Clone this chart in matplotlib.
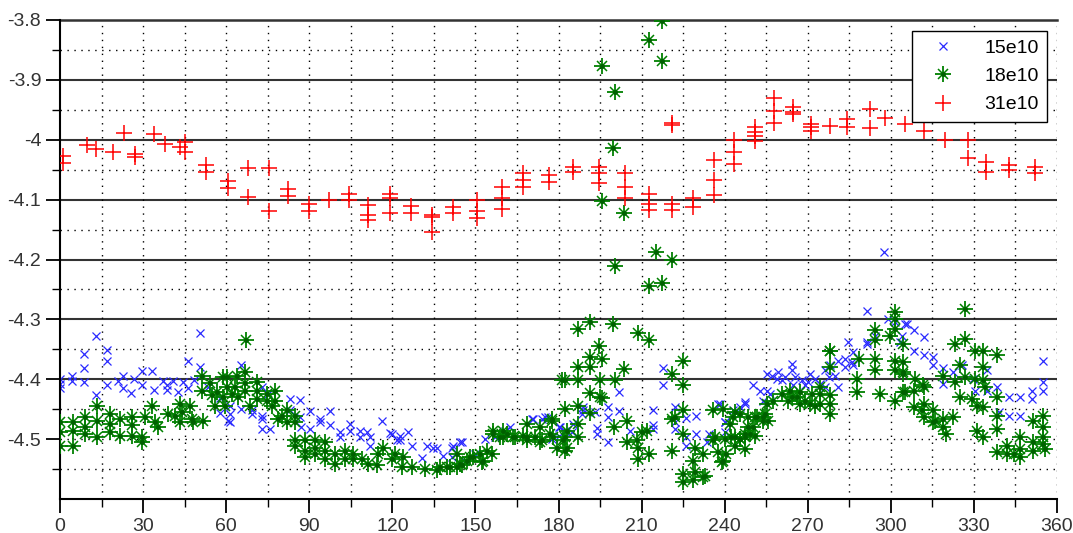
import numpy as np
import matplotlib
matplotlib.use("Agg")
import matplotlib.pyplot as plt

# --- data (angle in degrees, value) ---
blue_x = [0, 0, 0, 4.2, 4.2, 8.7, 8.7, 8.7, 12.9, 12.9, 17.1, 17.1, 17.1,
          21.0, 22.9, 22.9, 25.6, 26.8, 29.7, 29.7, 33.3, 34.1,
          37.3, 38.5, 38.5, 40.9, 42.7, 44.5, 46.1, 46.3, 48.5,
          50.6, 50.6, 53.6, 57.8, 57.8, 60.8, 61.4, 61.4, 61.4, 65.4, 65.4, 69.2, 69.2,
          72.8, 72.8, 72.8, 72.8, 75.2, 75.8, 83.1, 83.1, 86.7, 86.7, 87.0, 90.3, 90.3,
          93.9, 93.9, 97.5, 97.5, 101.1, 101.1, 104.7, 104.7, 108.3, 108.3,
          110.8, 112.0, 112.0, 116.2, 119.2, 119.8, 121.6,
          122.8, 122.8, 125.8, 127.0, 130.6, 132.4, 134.8, 136.0, 138.4, 141.5, 141.5, 142.0,
          144.4, 145.1, 146.3, 149.9, 153.5, 157.1, 160.7, 162.5, 170.3, 170.9, 174.0,
          175.2, 176.3, 177.6, 180.0, 180.0, 180.6, 182.4, 184.8, 185.4,
          188.4, 189.0, 189.0, 193.2, 193.8, 193.8, 197.8, 197.8, 197.8, 201.9, 201.9, 205.8,
          214.3, 214.3, 214.3, 217.9, 217.9, 222.1, 222.1, 222.1, 226.0, 226.0, 226.0,
          229.6, 229.6, 233.5, 234.4, 237.7, 238.2, 240.0, 240.0, 240.2, 243.0, 243.8,
          245.4, 247.3, 247.4, 250.4, 252.8, 254.0, 255.2, 255.2, 256.4, 257.0, 258.8,
          259.4, 260.6, 261.8, 264.2, 264.2, 264.8, 265.4, 267.8, 269.1, 270.2, 270.9,
          272.7, 274.5, 276.3, 276.3, 277.5, 278.1, 279.9, 281.1, 281.1, 283.5, 283.5,
          284.7, 285.9, 286.5, 286.5, 291.3, 291.3, 291.3, 294.3, 297.5, 299.1, 301.5,
          303.4, 304.0, 305.2, 305.8, 308.2, 308.2, 311.8, 311.8, 315.4, 315.4,
          319.0, 319.0, 322.6, 325.6, 329.8, 330.4, 334.7, 334.7, 338.3, 338.9, 342.5,
          342.5, 346.7, 346.7, 350.9, 350.9, 355.1, 355.1, 355.1]
blue_y = [-4.399, -4.408, -4.414, -4.394, -4.403, -4.357, -4.382, -4.405, -4.328, -4.427,
          -4.351, -4.370, -4.409, -4.403, -4.395, -4.414, -4.423, -4.399, -4.386, -4.410,
          -4.386, -4.418, -4.403, -4.409, -4.418, -4.403, -4.422, -4.405, -4.369, -4.414,
          -4.401, -4.323, -4.379, -4.413, -4.431, -4.456, -4.469, -4.444, -4.458, -4.472,
          -4.377, -4.449, -4.452, -4.458, -4.413, -4.461, -4.466, -4.483, -4.424, -4.483,
          -4.452, -4.433, -4.434, -4.463, -4.480, -4.453, -4.483, -4.466, -4.472, -4.453,
          -4.477, -4.488, -4.497, -4.474, -4.486, -4.486, -4.497, -4.488, -4.497, -4.511,
          -4.469, -4.490, -4.491, -4.502, -4.494, -4.502, -4.488, -4.511, -4.531, -4.511,
          -4.514, -4.514, -4.529, -4.514, -4.530, -4.512, -4.505, -4.505, -4.536, -4.525,
          -4.500, -4.497, -4.486, -4.479, -4.466, -4.466, -4.466, -4.463, -4.463, -4.500,
          -4.480, -4.494, -4.480, -4.486, -4.488, -4.474, -4.458, -4.451, -4.447, -4.455,
          -4.481, -4.492, -4.447, -4.463, -4.504, -4.422, -4.453, -4.486, -4.451, -4.477,
          -4.483, -4.381, -4.410, -4.447, -4.472, -4.483, -4.464, -4.497, -4.511, -4.462,
          -4.491, -4.505, -4.492, -4.441, -4.442, -4.472, -4.488, -4.472, -4.452, -4.455,
          -4.447, -4.441, -4.438, -4.410, -4.419, -4.436, -4.419, -4.391, -4.424, -4.394,
          -4.399, -4.388, -4.402, -4.397, -4.374, -4.385, -4.410, -4.397, -4.402, -4.410,
          -4.405, -4.391, -4.399, -4.408, -4.385, -4.413, -4.396, -4.377, -4.394, -4.369,
          -4.413, -4.366, -4.380, -4.338, -4.371, -4.355, -4.377, -4.286, -4.338, -4.341,
          -4.327, -4.188, -4.299, -4.305, -4.338, -4.327, -4.307, -4.307, -4.318, -4.352,
          -4.330, -4.360, -4.363, -4.377, -4.382, -4.408, -4.388, -4.377, -4.399, -4.419,
          -4.385, -4.419, -4.413, -4.455, -4.430, -4.461, -4.430, -4.462, -4.419, -4.433,
          -4.370, -4.405, -4.419]

green_x = [0, 0, 0, 4.8, 4.8, 4.8, 9.0, 9.0, 9.0, 13.2, 13.2, 13.2, 18.0, 18.0, 18.0,
           21.7, 21.7, 25.9, 25.9, 25.9, 29.5, 29.5, 30.7, 33.1, 34.3, 35.5,
           39.1, 41.5, 43.3, 43.3, 43.9, 46.9, 47.6, 48.1,
           51.2, 51.2, 51.8, 54.2, 54.8, 56.0, 56.6, 59.0, 59.0, 59.6,
           60.2, 60.2, 62.0, 63.2, 63.8, 64.4, 66.8, 66.8, 66.8, 67.1, 68.6,
           71.0, 71.0, 71.0, 74.6, 74.6, 76.5, 77.6, 77.6, 78.8, 80.1,
           81.9, 81.9, 84.9, 84.9, 84.9, 84.9,
           88.5, 88.5, 88.5, 92.1, 92.1, 92.1, 95.7, 95.7, 95.7,
           99.3, 99.3, 102.9, 102.9, 105.9, 105.9, 109.0, 111.3, 114.4, 115.0, 116.8, 119.8,
           121.0, 123.4, 124.0, 127.0, 131.8, 136.0, 137.2, 139.7, 140.8, 143.3, 143.3,
           144.5, 145.1, 146.9, 148.1, 149.3, 151.7, 152.3, 152.9, 154.1,
           155.9, 156.5, 156.5, 158.9, 160.1, 160.1, 161.3, 163.7, 164.3, 167.3, 168.5,
           168.5, 168.5, 171.5, 173.3, 173.3, 174.0, 177.0, 177.6, 177.6, 178.1, 179.4,
           181.2, 181.8, 182.4, 182.4, 182.4, 182.4, 183.0, 183.0,
           187.2, 187.2, 187.2, 187.2, 187.2, 187.2, 191.4, 191.4, 191.4, 191.4, 191.4,
           194.8, 195.0, 195.0, 195.6, 195.6, 195.6, 195.8, 199.5, 199.5, 200.4, 200.4,
           200.4, 200.2, 203.7, 203.7, 204.7, 204.7,
           208.3, 208.6, 208.6, 208.8, 210.0, 211.9, 212.5, 212.7, 212.7, 212.8, 215.2,
           217.3, 217.3, 217.3, 221.0, 221.1, 221.1, 222.1, 221.1, 224.9, 224.9, 224.9,
           224.9, 224.9, 225.1, 228.7, 228.7, 229.3, 229.3, 232.3, 232.3, 232.9,
           235.8, 235.8, 236.5, 237.6, 239.0, 239.4, 239.5, 240.2, 240.6,
           242.0, 242.4, 243.0, 243.8, 243.8, 243.8, 245.4, 245.4, 245.6, 247.3, 247.4,
           247.4, 248.6, 248.6, 249.1, 250.3, 251.0, 251.0, 251.5, 253.9, 254.0, 254.6,
           255.2, 255.7, 257.6, 260.6, 263.0, 263.6, 264.2, 266.0, 267.3, 267.3, 269.1,
           270.9, 271.5, 272.7, 274.5, 274.5, 274.5,
           278.0, 278.1, 278.1, 278.1, 278.1, 278.0, 287.7, 287.7, 288.5,
           294.3, 294.3, 294.3, 294.3, 296.1, 299.7, 301.5, 301.5, 301.5, 301.5, 301.5,
           301.5, 304.5, 304.5, 304.5, 304.5, 304.5, 305.0, 308.2, 308.2, 308.8, 311.1,
           311.7, 311.8, 311.8, 311.8, 315.4, 315.4, 315.9, 319.0, 319.0, 319.0, 320.1,
           322.5, 323.2, 323.2, 325.0, 325.0, 326.8, 326.8, 326.8, 329.2, 330.4, 330.4,
           331.0, 331.0, 333.4, 333.4, 333.4, 333.4, 333.4, 334.0, 338.3, 338.3, 338.3,
           338.3, 338.3, 341.9, 341.9, 344.3, 346.7, 346.7, 346.7, 351.5, 351.5, 351.5,
           355.1, 355.1, 355.1, 355.1, 355.7]
green_y = [-4.472, -4.488, -4.511, -4.472, -4.486, -4.511, -4.463, -4.480, -4.491,
           -4.444, -4.469, -4.497, -4.458, -4.474, -4.488, -4.466, -4.494, -4.463, -4.477,
           -4.494, -4.497, -4.505, -4.463, -4.444, -4.472, -4.480, -4.458, -4.461, -4.472,
           -4.441, -4.455, -4.444, -4.466, -4.472, -4.394, -4.419, -4.469, -4.407, -4.427,
           -4.444, -4.422, -4.397, -4.430, -4.444, -4.396, -4.413, -4.424, -4.413, -4.394,
           -4.430, -4.388, -4.407, -4.419, -4.334, -4.444, -4.405, -4.419, -4.433, -4.424,
           -4.436, -4.444, -4.419, -4.436, -4.466, -4.461, -4.452, -4.472, -4.461, -4.472,
           -4.501, -4.511, -4.502, -4.519, -4.530, -4.501, -4.514, -4.525, -4.505, -4.519,
           -4.533, -4.525, -4.541, -4.519, -4.533, -4.525, -4.533, -4.533, -4.541, -4.544,
           -4.525, -4.514, -4.533, -4.525, -4.547, -4.530, -4.547, -4.550, -4.552, -4.547,
           -4.547, -4.547, -4.547, -4.525, -4.541, -4.544, -4.536, -4.530, -4.530, -4.525,
           -4.539, -4.536, -4.519, -4.525, -4.486, -4.491, -4.497, -4.497, -4.486, -4.491,
           -4.497, -4.497, -4.494, -4.474, -4.497, -4.502, -4.497, -4.480, -4.505, -4.502,
           -4.491, -4.466, -4.469, -4.497, -4.514, -4.402, -4.502, -4.449, -4.497, -4.519,
           -4.401, -4.486, -4.514, -4.316, -4.379, -4.401, -4.445, -4.474, -4.497, -4.305,
           -4.363, -4.379, -4.423, -4.456, -4.344, -4.401, -4.430, -4.431, -3.877, -4.103,
           -4.367, -4.307, -4.013, -3.920, -4.211, -4.401, -4.480, -4.123, -4.383, -4.470,
           -4.505, -4.502, -4.323, -4.533, -4.514, -4.488, -4.486, -4.525, -3.833, -4.245,
           -4.334, -4.188, -3.801, -3.868, -4.239, -4.200, -4.391, -4.466, -4.463, -4.520,
           -4.369, -4.409, -4.452, -4.491, -4.558, -4.572, -4.536, -4.569, -4.514, -4.555,
           -4.525, -4.564, -4.561, -4.451, -4.502, -4.497, -4.522, -4.539, -4.536, -4.449,
           -4.500, -4.525, -4.474, -4.497, -4.463, -4.455, -4.497, -4.511, -4.458, -4.500,
           -4.500, -4.497, -4.491, -4.516, -4.463, -4.480, -4.491, -4.480, -4.463, -4.494,
           -4.463, -4.463, -4.469, -4.458, -4.441, -4.469, -4.436, -4.424, -4.436, -4.419,
           -4.430, -4.430, -4.441, -4.422, -4.436, -4.441, -4.424, -4.444, -4.413, -4.424,
           -4.441, -4.352, -4.353, -4.427, -4.441, -4.458, -4.380, -4.399, -4.422, -4.366,
           -4.318, -4.335, -4.366, -4.385, -4.424, -4.327, -4.288, -4.299, -4.316, -4.369,
           -4.385, -4.436, -4.341, -4.371, -4.388, -4.391, -4.422, -4.422, -4.419, -4.447,
           -4.399, -4.452, -4.410, -4.413, -4.441, -4.463, -4.452, -4.472, -4.469, -4.394,
           -4.466, -4.480, -4.491, -4.463, -4.341, -4.405, -4.377, -4.430, -4.282, -4.332,
           -4.396, -4.433, -4.352, -4.399, -4.444, -4.486, -4.353, -4.380, -4.402, -4.447,
           -4.496, -4.413, -4.360, -4.430, -4.461, -4.483, -4.522, -4.511, -4.525, -4.525,
           -4.497, -4.516, -4.530, -4.469, -4.505, -4.519, -4.461, -4.480, -4.497, -4.508,
           -4.516]

red_x = [1.2, 1.2, 9.9, 13.0, 19.3, 23.0, 27.2, 27.2, 34.0, 38.0, 43.3, 45.1, 45.1,
         52.7, 52.7, 60.5, 60.5, 68.0, 68.0, 75.6, 75.6, 82.4, 82.4, 90.0, 90.0, 97.0,
         104.5, 104.5, 111.3, 111.3, 111.3, 119.0, 119.0, 119.0, 126.6, 126.6,
         134.2, 134.2, 134.2, 142.0, 142.0, 150.5, 150.5, 150.5, 159.5, 159.5, 159.5,
         167.3, 167.3, 167.3, 176.6, 176.6, 185.4, 185.4, 194.7, 194.7, 194.7,
         204.0, 204.0, 204.0, 212.5, 212.5, 212.5, 221.0, 221.0, 221.0, 221.0,
         228.7, 228.7, 236.2, 236.2, 236.2, 243.3, 243.3, 243.3,
         250.9, 250.9, 250.9, 250.9, 257.7, 257.7, 257.7, 264.7, 264.7, 264.7,
         271.1, 271.1, 271.1, 278.0, 284.3, 284.3, 292.4, 292.4, 297.8, 305.0, 311.9,
         319.7, 327.9, 327.9, 334.4, 334.4, 342.7, 342.7, 352.0, 352.0]
red_y = [-4.027, -4.039, -4.009, -4.016, -4.021, -3.988, -4.024, -4.029, -3.991, -4.007,
         -4.012, -4.003, -4.020, -4.042, -4.054, -4.069, -4.081, -4.048, -4.095, -4.048,
         -4.119, -4.083, -4.094, -4.108, -4.119, -4.101, -4.091, -4.100, -4.109, -4.126,
         -4.134, -4.090, -4.098, -4.122, -4.111, -4.123, -4.126, -4.129, -4.154, -4.112,
         -4.123, -4.101, -4.119, -4.130, -4.079, -4.098, -4.115, -4.056, -4.068, -4.079,
         -4.059, -4.070, -4.045, -4.054, -4.045, -4.055, -4.072, -4.055, -4.079, -4.098,
         -4.090, -4.107, -4.118, -3.972, -3.976, -4.107, -4.118, -4.098, -4.112, -4.033,
         -4.068, -4.093, -4.001, -4.020, -4.040, -3.978, -3.987, -3.994, -4.002, -3.931,
         -3.952, -3.972, -3.946, -3.953, -3.957, -3.973, -3.978, -3.985, -3.977, -3.966,
         -3.978, -3.948, -3.981, -3.964, -3.974, -3.985, -4.000, -4.000, -4.031, -4.037,
         -4.054, -4.042, -4.051, -4.046, -4.056]

labels = ["15e10", "18e10", "31e10"]
x_ticks = list(range(0, 361, 30))
y_ticks = [-4.5, -4.4, -4.3, -4.2, -4.1, -4.0, -3.9, -3.8]
y_tick_labels = ["-4.5", "-4.4", "-4.3", "-4.2", "-4.1", "-4", "-3.9", "-3.8"]

plt.rcParams['font.family'] = ['Liberation Sans', 'DejaVu Sans']

fig = plt.figure(figsize=(10.73, 5.33), dpi=100)
ax = fig.add_axes([60 / 1073, 1 - 499 / 533, 997 / 1073, 479 / 533])
ax.set_xlim(0, 360)
ax.set_ylim(-4.6, -3.8)

# grid: solid at most majors, dotted elsewhere
dot = (0, (1, 4))
for yv in np.arange(-4.55, -3.8, 0.05):
    yv = round(yv, 2)
    if yv <= -4.45 or abs(yv * 10 - round(yv * 10)) > 1e-6:
        ax.axhline(yv, color='black', lw=1.0, ls=dot, zorder=0)
    else:
        ax.axhline(yv, color='#333333', lw=1.5, zorder=0)
ax.axhline(-3.8, color='#333333', lw=1.8, zorder=0, clip_on=False)
for xv in range(15, 361, 15):
    ax.axvline(xv, color='black', lw=1.0, ls=dot, zorder=0)

b, = ax.plot(blue_x, blue_y, ls='none', marker='x', ms=6, mew=0.9,
             color='#2a2aff', zorder=2)
# green "asterisk": long plus, short cross, dark centre dot
g1, = ax.plot(green_x, green_y, ls='none', marker='+', ms=12, mew=1.3,
              color='#008000', zorder=3)
g2, = ax.plot(green_x, green_y, ls='none', marker='x', ms=6.5, mew=1.1,
              color='#008000', zorder=3)
g3, = ax.plot(green_x, green_y, ls='none', marker='o', ms=3.5, mew=0,
              color='#006000', zorder=3)
r, = ax.plot(red_x, red_y, ls='none', marker='+', ms=11, mew=1.1,
             color='#ff0000', zorder=4)

for s in ['top', 'right']:
    ax.spines[s].set_visible(False)
ax.spines['left'].set_linewidth(1.5)
ax.spines['bottom'].set_linewidth(1.5)

ax.set_xticks(x_ticks)
ax.set_xticks(list(range(15, 360, 30)), minor=True)
ax.set_yticks(y_ticks)
ax.set_yticklabels(y_tick_labels)
ax.set_yticks([-4.55, -4.45, -4.35, -4.25, -4.15, -4.05, -3.95, -3.85], minor=True)
ax.tick_params(which='major', length=10, width=1.3, colors='black',
               labelcolor='#333333', labelsize=14)
ax.tick_params(which='minor', length=6, width=1.0)

leg = ax.legend([b, (g1, g2, g3), r], labels, loc='upper right',
                bbox_to_anchor=(0.99, 0.977), borderaxespad=0, fancybox=False,
                framealpha=1, edgecolor='black', fontsize=14, handlelength=2.3,
                handletextpad=1.0, borderpad=0.42, labelspacing=0.55)
leg.get_frame().set_linewidth(1.0)

fig.savefig("out.png", dpi=100)
